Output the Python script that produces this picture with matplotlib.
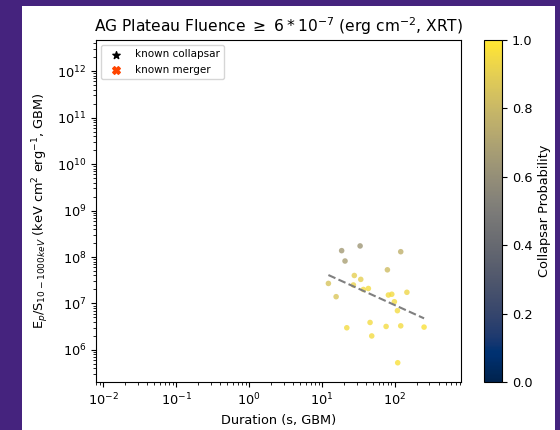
import matplotlib.pyplot as plt
import numpy as np
from matplotlib.patches import Rectangle

# values
duration = [18.7, 33.5, 20.8, 121, 27.9, 34.2, 12.3, 27.1, 37.2, 43.5,
            79.4, 15.7, 81.9, 91.2, 147, 99, 109, 22, 45.9, 48.4, 76.2,
            121, 253, 110]
ep_over_s = [1.37e8, 1.73e8, 8.2e7, 1.3e8, 4.0e7, 3.3e7, 2.7e7, 2.5e7,
             2.0e7, 2.1e7, 5.3e7, 1.4e7, 1.52e7, 1.58e7, 1.74e7, 1.09e7,
             7.0e6, 3.0e6, 3.9e6, 2.0e6, 3.2e6, 3.3e6, 3.1e6, 5.3e5]
collapsar_prob = [0.66, 0.64, 0.68, 0.76, 0.9, 0.9, 0.85, 0.92, 0.95, 0.95,
                  0.82, 0.86, 0.95, 0.95, 0.93, 0.95, 0.95, 0.95, 0.95,
                  0.95, 0.95, 0.95, 0.97, 0.97]

# dashed trend line (log-log)
fit_slope = -0.71
fit_intercept = 8.386

plt.rcParams['font.size'] = 9.3

fig = plt.figure(figsize=(5.6, 4.3), dpi=100)
fig.patch.set_facecolor('#45237e')
fig.patches.append(Rectangle((22 / 560, 0), 533 / 560, 424 / 430,
                             transform=fig.transFigure, facecolor='white',
                             edgecolor='none', zorder=-10))

ax = fig.add_axes([96 / 560, 48 / 430, 365 / 560, 342 / 430])
cax = fig.add_axes([484 / 560, 48 / 430, 18 / 560, 342 / 430])

sc = ax.scatter(duration, ep_over_s, c=collapsar_prob, cmap='cividis',
                vmin=0, vmax=1, s=16, alpha=0.8, edgecolors='none')

x_fit = np.array([min(duration), max(duration)])
y_fit = 10 ** (fit_intercept + fit_slope * np.log10(x_fit))
ax.plot(x_fit, y_fit, '--', color='gray', lw=1.5)

# legend entries for the reference classes
ax.scatter([], [], marker='*', c='k', s=30, label='known collapsar')
ax.scatter([], [], marker='X', c='orangered', s=30, label='known merger')
ax.legend(loc='upper left', fontsize=7.5)

ax.set_xscale('log')
ax.set_yscale('log')
ax.set_xlim(10 ** -2.10, 10 ** 2.91)
ax.set_ylim(10 ** 5.31, 10 ** 12.67)
ax.set_xlabel('Duration (s, GBM)')
ax.set_ylabel(r'E$_p$/S$_{10-1000keV}$ (keV cm$^2$ erg$^{-1}$, GBM)')
ax.set_title(r'AG Plateau Fluence $\geq$ $6*10^{-7}$ (erg cm$^{-2}$, XRT)',
             fontsize=11.2)

cb = fig.colorbar(sc, cax=cax)
cb.solids.set_alpha(1)
cb.set_label('Collapsar Probability')

fig.savefig('out.png', dpi=100, facecolor=fig.get_facecolor())
